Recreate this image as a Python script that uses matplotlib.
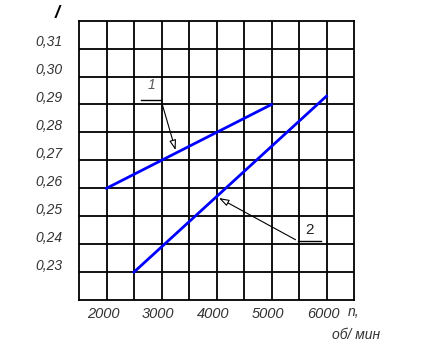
import matplotlib
matplotlib.use("Agg")
import matplotlib.pyplot as plt

# data
line1_n = [2000, 5000]
line1_v = [0.260, 0.290]
line2_n = [2500, 6000]
line2_v = [0.230, 0.293]

x_labels = [2000, 3000, 4000, 5000, 6000]
y_labels = [0.23, 0.24, 0.25, 0.26, 0.27, 0.28, 0.29, 0.30, 0.31]
x_grid = [2000, 2500, 3000, 3500, 4000, 4500, 5000, 5500, 6000]
y_grid = [0.23, 0.24, 0.25, 0.26, 0.27, 0.28, 0.29, 0.30, 0.31]

plt.rcParams["font.family"] = ["Liberation Sans", "DejaVu Sans"]
txt_color = "#333333"

fig = plt.figure(figsize=(4.38, 3.52), dpi=100)
ax = fig.add_axes([79 / 438, 1 - 300 / 352, 275 / 438, 279.3 / 352])
ax.set_xlim(1500, 6500)
ax.set_ylim(0.22, 0.32)

# grid
for x in x_grid:
    ax.axvline(x, color="black", lw=1.3, zorder=1)
for y in y_grid:
    ax.axhline(y, color="black", lw=1.3, zorder=1)
for s in ax.spines.values():
    s.set_linewidth(1.3)

ax.set_xticks([])
ax.set_yticks([])

# tick labels
for v in x_labels:
    ax.text(v - 60, -0.045, str(v), transform=ax.get_xaxis_transform(),
            ha="center", va="center_baseline", fontsize=10.5, style="italic",
            color=txt_color)
for v in y_labels:
    ax.text(-0.06, v + 0.0022, f"{v:.2f}".replace(".", ","),
            transform=ax.get_yaxis_transform(), ha="right", va="center",
            fontsize=10, style="italic", color=txt_color)

# axis labels
fig.text(348 / 438, 1 - 312 / 352, "n,", ha="left", va="center",
         fontsize=10, style="italic", color=txt_color)
fig.text(332 / 438, 1 - 335 / 352, "об/ мин", ha="left", va="center",
         fontsize=10, style="italic", color=txt_color)
fig.text(57 / 438, 1 - 13 / 352, "/", ha="center", va="center",
         fontsize=13, weight="bold", style="italic", color="black")

# curves
ax.plot(line1_n, line1_v, color="#0000ff", lw=2, zorder=3)
ax.plot(line2_n, line2_v, color="#0000ff", lw=2, zorder=3)

# leaders
ax.plot([2627, 2991], [0.2916, 0.2916], color="black", lw=1, zorder=4)
ax.annotate("", xy=(3270, 0.2727), xytext=(2991, 0.2916),
            arrowprops=dict(arrowstyle="-|>,head_length=0.6,head_width=0.2",
                            lw=0.8, color="black", fc="white"), zorder=4)
ax.text(2810, 0.2945, "1", ha="center", va="bottom", fontsize=10,
        style="italic", color="#555555")

ax.plot([5482, 5894], [0.2411, 0.2411], color="black", lw=1, zorder=4)
ax.annotate("", xy=(4000, 0.2570), xytext=(5482, 0.2411),
            arrowprops=dict(arrowstyle="-|>,head_length=0.6,head_width=0.2",
                            lw=0.8, color="black", fc="white"), zorder=4)
ax.text(5700, 0.2425, "2", ha="center", va="bottom", fontsize=11,
        color="#222222")

fig.savefig("out.png", dpi=100)
